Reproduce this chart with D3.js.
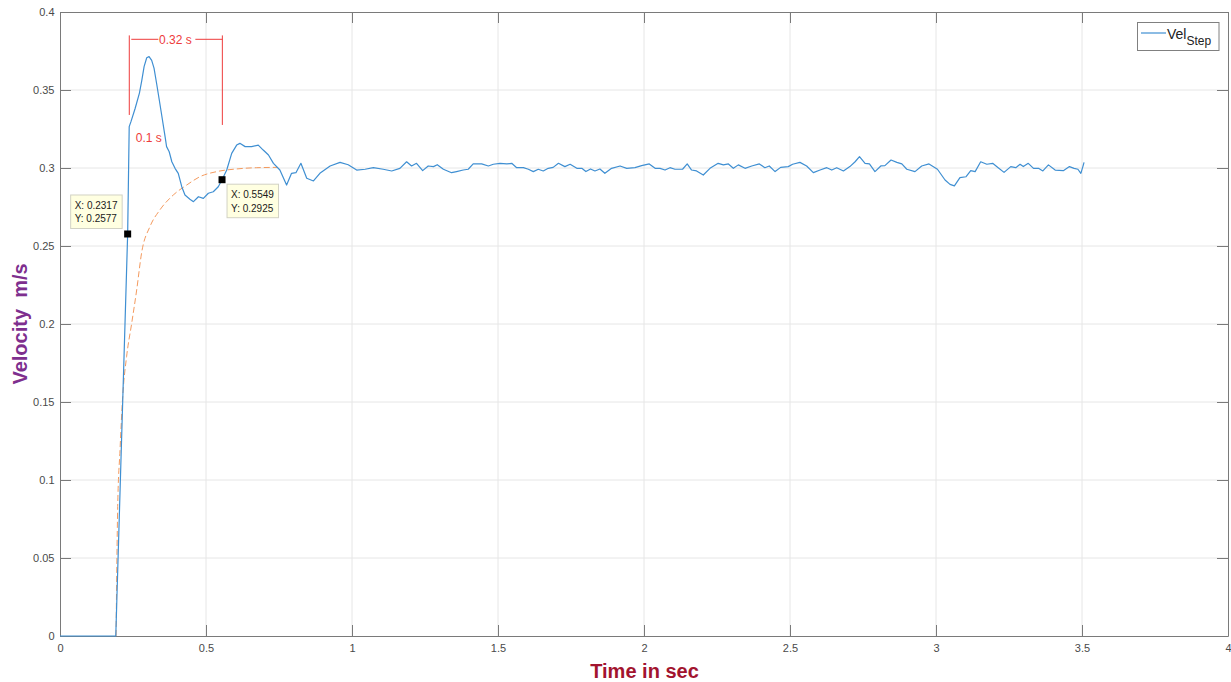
<!DOCTYPE html>
<html>
<head>
<meta charset="utf-8">
<script src="https://cdn.jsdelivr.net/npm/d3@7/dist/d3.min.js"></script>
<style>
  html, body { margin: 0; padding: 0; background: #fff; }
  svg { display: block; font-family: "Liberation Sans", Arial, Helvetica, sans-serif; }
</style>
</head>
<body>
<svg id="chart" width="1231" height="682"></svg>
<script>
// ---------- data ----------
const velTime = [0, 0.191, 0.2317, 0.237, 0.243, 0.257, 0.272, 0.280, 0.288, 0.297, 0.305, 0.314, 0.322, 0.331, 0.340, 0.349, 0.360, 0.365, 0.374, 0.383, 0.394, 0.405, 0.417, 0.428, 0.445, 0.457, 0.474, 0.491, 0.508, 0.525, 0.542, 0.5549, 0.571, 0.588, 0.605, 0.616, 0.634, 0.656, 0.679, 0.696, 0.714, 0.731, 0.753, 0.776, 0.793, 0.808, 0.825, 0.845, 0.868, 0.890, 0.925, 0.959, 0.987, 1.016, 1.045, 1.073, 1.107, 1.136, 1.164, 1.187, 1.204, 1.221, 1.242, 1.261, 1.279, 1.292, 1.313, 1.341, 1.358, 1.381, 1.398, 1.415, 1.444, 1.467, 1.484, 1.507, 1.530, 1.547, 1.564, 1.587, 1.604, 1.621, 1.638, 1.655, 1.672, 1.689, 1.707, 1.729, 1.747, 1.770, 1.787, 1.801, 1.817, 1.832, 1.849, 1.866, 1.889, 1.918, 1.941, 1.969, 1.992, 2.018, 2.038, 2.055, 2.072, 2.089, 2.106, 2.132, 2.148, 2.163, 2.180, 2.203, 2.226, 2.254, 2.272, 2.289, 2.306, 2.323, 2.346, 2.369, 2.395, 2.414, 2.429, 2.449, 2.468, 2.494, 2.509, 2.534, 2.557, 2.580, 2.603, 2.626, 2.643, 2.660, 2.683, 2.705, 2.723, 2.738, 2.757, 2.772, 2.791, 2.811, 2.825, 2.846, 2.866, 2.883, 2.900, 2.928, 2.951, 2.976, 3.005, 3.031, 3.048, 3.063, 3.082, 3.103, 3.119, 3.134, 3.153, 3.174, 3.194, 3.213, 3.233, 3.256, 3.273, 3.288, 3.299, 3.316, 3.334, 3.351, 3.366, 3.385, 3.408, 3.436, 3.457, 3.473, 3.486, 3.496, 3.503, 3.507];
const velStep = [0, 0, 0.2577, 0.3265, 0.3297, 0.338, 0.348, 0.356, 0.365, 0.3707, 0.3714, 0.369, 0.364, 0.354, 0.3436, 0.333, 0.320, 0.3137, 0.3104, 0.304, 0.2998, 0.2966, 0.288, 0.2827, 0.2800, 0.2784, 0.2816, 0.2805, 0.2838, 0.2848, 0.288, 0.2925, 0.2987, 0.3094, 0.3147, 0.3158, 0.3137, 0.3137, 0.3147, 0.3115, 0.3083, 0.303, 0.2987, 0.2891, 0.2966, 0.297, 0.303, 0.2934, 0.2917, 0.2966, 0.3013, 0.3036, 0.3021, 0.2987, 0.2992, 0.3002, 0.2992, 0.2981, 0.2998, 0.304, 0.3013, 0.303, 0.2983, 0.3013, 0.3009, 0.3021, 0.2992, 0.297, 0.2977, 0.2987, 0.2992, 0.3026, 0.3026, 0.3013, 0.3024, 0.303, 0.3026, 0.303, 0.3002, 0.3002, 0.2992, 0.2977, 0.2992, 0.2981, 0.2998, 0.3004, 0.303, 0.3009, 0.3024, 0.2998, 0.2998, 0.2977, 0.2994, 0.2981, 0.2994, 0.2966, 0.2998, 0.3013, 0.2998, 0.3002, 0.3015, 0.3026, 0.2998, 0.2998, 0.2987, 0.3002, 0.2992, 0.2992, 0.3026, 0.2987, 0.2981, 0.2955, 0.2998, 0.303, 0.302, 0.3026, 0.2998, 0.302, 0.2998, 0.3013, 0.3026, 0.3002, 0.3013, 0.2977, 0.3004, 0.3009, 0.3024, 0.3036, 0.3013, 0.297, 0.2987, 0.3002, 0.2987, 0.3002, 0.2981, 0.3009, 0.304, 0.3073, 0.303, 0.3026, 0.2977, 0.3013, 0.3015, 0.3051, 0.3036, 0.3026, 0.2992, 0.2977, 0.3013, 0.3026, 0.2992, 0.2923, 0.2895, 0.2885, 0.2938, 0.2944, 0.2983, 0.2977, 0.304, 0.3024, 0.303, 0.3002, 0.2972, 0.3009, 0.3002, 0.3024, 0.3009, 0.303, 0.2998, 0.2998, 0.2981, 0.302, 0.2987, 0.2983, 0.3009, 0.2998, 0.2992, 0.2966, 0.3009, 0.3036];

const fitTime = [0.192, 0.1976, 0.2055, 0.2147, 0.228, 0.2455, 0.2626, 0.280, 0.308, 0.342, 0.388, 0.434, 0.479, 0.537, 0.605, 0.674, 0.745];
const fitVel  = [0, 0.083, 0.119, 0.1534, 0.179, 0.2004, 0.2218, 0.2462, 0.2624, 0.2731, 0.2827, 0.2891, 0.2944, 0.2977, 0.2994, 0.3002, 0.3004];

const xTicks = [0, 0.5, 1, 1.5, 2, 2.5, 3, 3.5, 4];
const yTicks = [0, 0.05, 0.1, 0.15, 0.2, 0.25, 0.3, 0.35, 0.4];

const tipX = [0.2317, 0.5549];
const tipY = [0.2577, 0.2925];

const riseStart = 0.2373;   // annotation: start of the 0.32 s bracket
const riseEnd = 0.556;      // annotation: end of the 0.32 s bracket
const bracketLabel = "0.32 s";
const riseLabel = "0.1 s";

// ---------- layout ----------
const svg = d3.select("#chart");
const L = 60, R = 1228, T = 12, B = 636;
const x = d3.scaleLinear().domain([0, 4]).range([L, R]);
const y = d3.scaleLinear().domain([0, 0.4]).range([B, T]);

const axisColor = "#7a7a7a";
const gridColor = "#e6e6e6";
const tickTextColor = "#4a4a4a";
const blue = "#3f8fd2";
const orange = "#f49a5e";
const red = "#ee3b3b";
const tickLen = 11;
const fmt = v => String(+v.toFixed(2));

// grid
svg.append("g").selectAll("line").data(xTicks.slice(1, -1)).join("line")
  .attr("x1", d => x(d)).attr("x2", d => x(d)).attr("y1", T).attr("y2", B)
  .attr("stroke", gridColor).attr("stroke-width", 1);
svg.append("g").selectAll("line").data(yTicks.slice(1, -1)).join("line")
  .attr("y1", d => y(d)).attr("y2", d => y(d)).attr("x1", L).attr("x2", R)
  .attr("stroke", gridColor).attr("stroke-width", 1);

// axes with d3 axis generators (inner ticks)
const xAxisB = d3.axisBottom(x).tickValues(xTicks).tickFormat(fmt).tickSizeInner(-tickLen).tickSizeOuter(0).tickPadding(8);
const xAxisT = d3.axisTop(x).tickValues(xTicks).tickFormat("").tickSizeInner(-tickLen).tickSizeOuter(0);
const yAxisL = d3.axisLeft(y).tickValues(yTicks).tickFormat(fmt).tickSizeInner(-tickLen).tickSizeOuter(0).tickPadding(5.5);
const yAxisR = d3.axisRight(y).tickValues(yTicks).tickFormat("").tickSizeInner(-tickLen).tickSizeOuter(0);

function styleAxis(g) {
  g.select(".domain").attr("stroke", axisColor).attr("stroke-width", 1);
  g.selectAll(".tick line").attr("stroke", axisColor).attr("stroke-width", 1);
  g.selectAll(".tick text").attr("fill", tickTextColor).attr("font-size", 11)
    .attr("font-family", "Liberation Sans, Arial, sans-serif");
}
svg.append("g").attr("transform", `translate(0,${B})`).call(xAxisB).call(styleAxis)
  .selectAll(".tick text").attr("y", 8).attr("dy", "0.71em");
svg.append("g").attr("transform", `translate(0,${T})`).call(xAxisT).call(styleAxis);
svg.append("g").attr("transform", `translate(${L},0)`).call(yAxisL).call(styleAxis)
  .selectAll(".tick text").attr("x", -5.5).attr("dy", "0.32em");
svg.append("g").attr("transform", `translate(${R},0)`).call(yAxisR).call(styleAxis);

// series
const blueData = velTime.map((t, i) => [t, velStep[i]]);
const fitData = fitTime.map((t, i) => [t, fitVel[i]]);

svg.append("path").datum(fitData)
  .attr("d", d3.line().x(d => x(d[0])).y(d => y(d[1])).curve(d3.curveMonotoneX))
  .attr("fill", "none").attr("stroke", orange).attr("stroke-width", 1)
  .attr("stroke-dasharray", "6,3");

svg.append("path").datum(blueData)
  .attr("d", d3.line().x(d => x(d[0])).y(d => y(d[1])))
  .attr("fill", "none").attr("stroke", blue).attr("stroke-width", 1.2)
  .attr("stroke-linejoin", "round");

// annotations (red bracket)
const ann = svg.append("g").attr("stroke", red).attr("stroke-width", 1);
ann.append("line").attr("x1", x(riseStart)).attr("x2", x(riseStart)).attr("y1", y(0.385)).attr("y2", y(0.334));
ann.append("line").attr("x1", x(riseEnd)).attr("x2", x(riseEnd)).attr("y1", y(0.385)).attr("y2", y(0.3276));
const by = y(0.3825);
ann.append("line").attr("x1", x(riseStart) + 2).attr("x2", x(riseStart) + 29).attr("y1", by).attr("y2", by);
ann.append("line").attr("x1", x(riseEnd) - 27).attr("x2", x(riseEnd)).attr("y1", by).attr("y2", by);
svg.append("text").attr("x", (x(riseStart) + x(riseEnd)) / 2 - 0.5).attr("y", by + 4.2)
  .attr("text-anchor", "middle").attr("font-size", 12).attr("fill", red).text(bracketLabel);
svg.append("text").attr("x", x(riseStart) + 6.5).attr("y", y(0.3165))
  .attr("font-size", 12).attr("fill", red).text(riseLabel);

// data tips
const tipOffsets = [[-57, -39], [5, 4.5]];
tipX.forEach((tx, i) => {
  const mx = x(tx), my = y(tipY[i]);
  const [ox, oy] = tipOffsets[i];
  const g = svg.append("g");
  g.append("rect").attr("x", mx + ox).attr("y", my + oy).attr("width", 51.5).attr("height", 33.5)
    .attr("fill", "#ffffe1").attr("stroke", "#d2d2c4").attr("stroke-width", 1);
  g.append("text").attr("x", mx + ox + 4).attr("y", my + oy + 14).attr("font-size", 10).attr("fill", "#1a1a1a")
    .text("X: " + tx.toFixed(4));
  g.append("text").attr("x", mx + ox + 4).attr("y", my + oy + 27.5).attr("font-size", 10).attr("fill", "#1a1a1a")
    .text("Y: " + tipY[i].toFixed(4));
  g.append("rect").attr("x", mx - 3.5).attr("y", my - 3.5).attr("width", 7).attr("height", 7).attr("fill", "#000");
});

// legend
const lg = svg.append("g");
lg.append("rect").attr("x", 1137.5).attr("y", 22.5).attr("width", 81.5).attr("height", 28)
  .attr("fill", "#fff").attr("stroke", "#808080").attr("stroke-width", 1);
lg.append("line").attr("x1", 1141).attr("x2", 1166).attr("y1", 33).attr("y2", 33)
  .attr("stroke", blue).attr("stroke-width", 1.2);
const lt = lg.append("text").attr("x", 1167).attr("y", 39).attr("font-size", 14).attr("fill", "#222");
lt.append("tspan").text("Vel");
lt.append("tspan").attr("font-size", 12).attr("dy", 5.5).text("Step");

// axis labels
svg.append("text").attr("x", 644.5).attr("y", 678).attr("text-anchor", "middle")
  .attr("font-size", 20).attr("font-weight", "bold").attr("fill", "#a2142f").text("Time in sec");
svg.append("text").attr("transform", `translate(27,324) rotate(-90)`).attr("text-anchor", "middle")
  .attr("font-size", 20).attr("font-weight", "bold").attr("fill", "#7e2f8e")
  .attr("xml:space", "preserve").style("white-space", "pre").text("Velocity  m/s");
</script>
</body>
</html>
